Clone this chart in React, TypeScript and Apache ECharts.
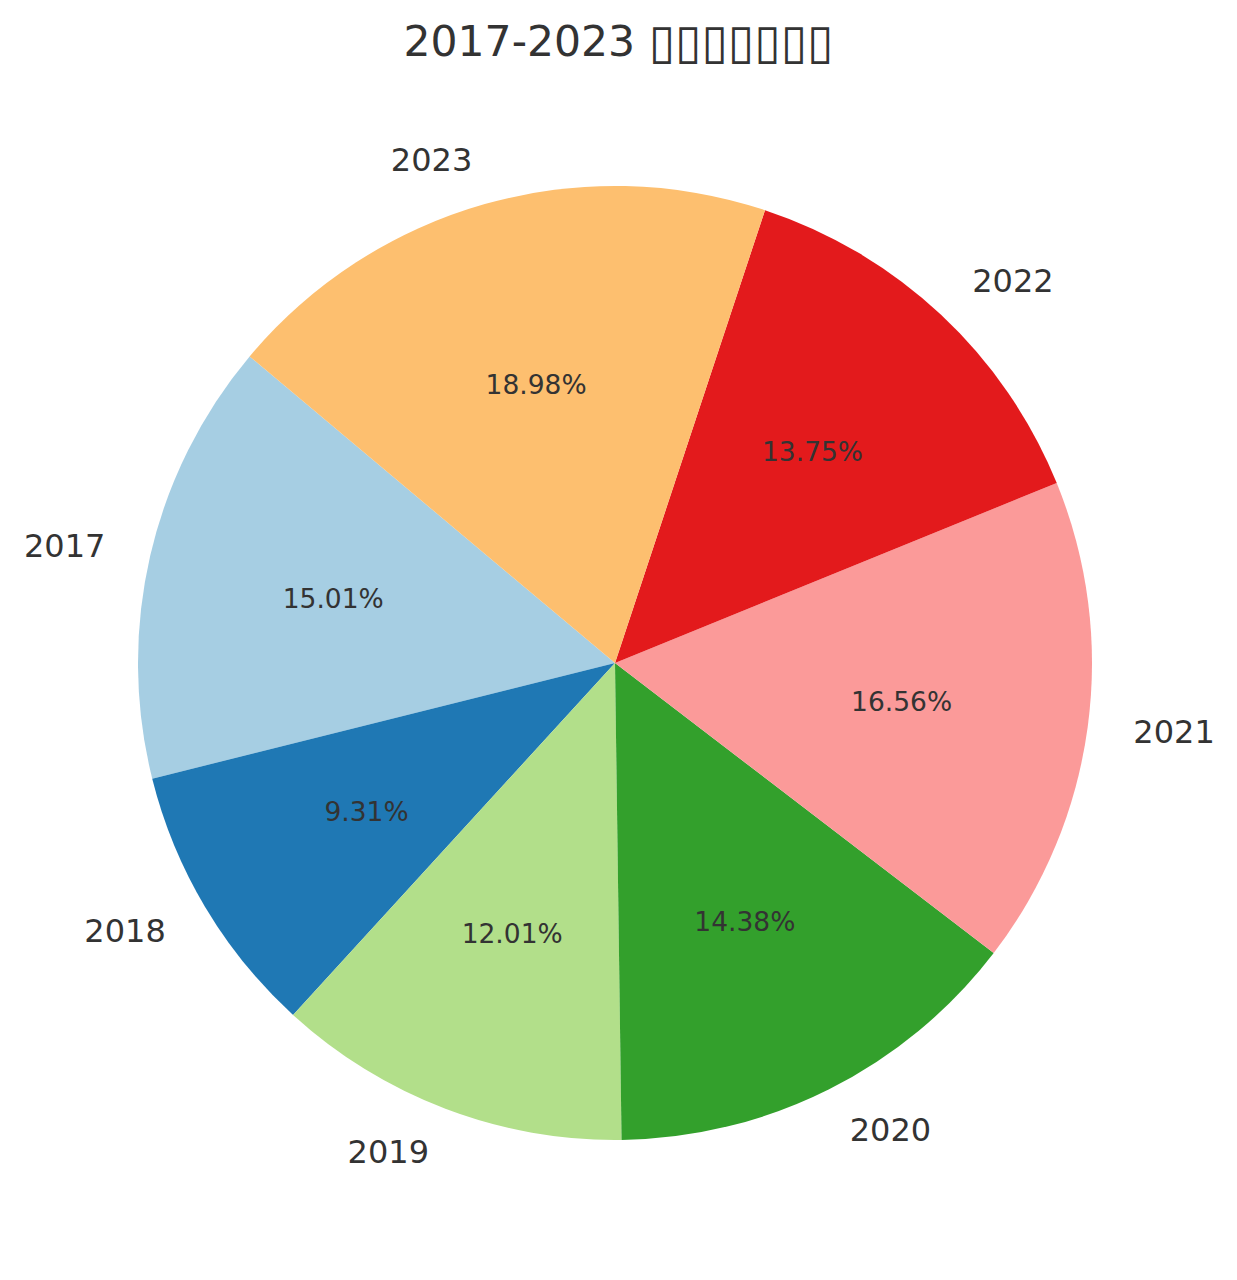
import React, { useEffect, useRef } from "react";
import * as echarts from "echarts";

const years = ["2017", "2018", "2019", "2020", "2021", "2022", "2023"];
const shares = [15.01, 9.31, 12.01, 14.38, 16.56, 13.75, 18.98];
const colors = ["#a6cee3", "#1f78b4", "#b2df8a", "#33a02c", "#fb9a99", "#e31a1c", "#fdbf6f"];
const titleYears = "2017-2023";
const titleMissing = "▯▯▯▯▯▯▯";

const FONT = "DejaVu Sans";
const R = 477;

export default function App() {
  const ref = useRef<HTMLDivElement>(null);
  useEffect(() => {
    if (!ref.current) return;
    const chart = echarts.init(ref.current, undefined, { renderer: "svg" });
    const data = years.map((y, i) => ({ name: y, value: shares[i], itemStyle: { color: colors[i] } }));
    chart.setOption({
      animation: false,
      backgroundColor: "#ffffff",
      title: {
        text: "{a|" + titleYears + " }{b|" + titleMissing + "}",
        left: "center",
        top: 12,
        textStyle: {
          fontWeight: "normal",
          rich: {
            a: { fontFamily: FONT, fontSize: 42.5, fontWeight: "normal", color: "#333333" },
            b: { fontFamily: FONT, fontSize: 48, fontWeight: "normal", color: "#333333" },
          },
        },
      },
      series: [
        {
          type: "pie",
          center: [615, 663],
          radius: [0, R],
          startAngle: 140,
          clockwise: false,
          avoidLabelOverlap: false,
          silent: true,
          data,
          itemStyle: { borderWidth: 0 },
          label: {
            show: true,
            position: "outside",
            formatter: "{b}",
            fontFamily: FONT,
            fontSize: 32,
            color: "#333333",
            distanceToLabelLine: 0,
          },
          labelLine: { show: false, length: 46, length2: 0 },
        },
        {
          type: "pie",
          center: [615, 663],
          radius: [R * 0.2, R],
          startAngle: 140,
          clockwise: false,
          avoidLabelOverlap: false,
          silent: true,
          data: years.map((y, i) => ({ name: y, value: shares[i] })),
          itemStyle: { color: "rgba(0,0,0,0)", borderWidth: 0 },
          label: {
            show: true,
            position: "inside",
            formatter: (p: any) => p.value.toFixed(2) + "%",
            fontFamily: FONT,
            fontSize: 26.5,
            color: "#333333",
          },
          labelLine: { show: false },
        },
      ],
    });
    return () => chart.dispose();
  }, []);
  return (
    <div
      ref={ref}
      style={{ position: "absolute", left: 0, top: 0, width: 1237, height: 1280 }}
    />
  );
}
